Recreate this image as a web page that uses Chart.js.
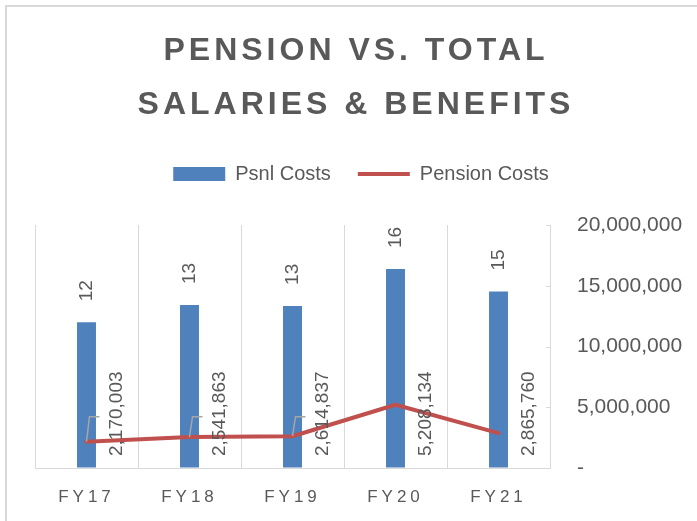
<!DOCTYPE html>
<html>
<head>
<meta charset="utf-8">
<script src="https://cdn.jsdelivr.net/npm/chart.js@4"></script>
<style>
  html, body { margin: 0; padding: 0; background: #ffffff; }
  #wrap { position: relative; width: 697px; height: 521px; overflow: hidden; }
  #frame { position: absolute; left: 5px; top: 5px; width: 800px; height: 600px; border: 2px solid #d9d9d9; }
  #c { position: absolute; left: 0; top: 0; }
</style>
</head>
<body>
<div id="wrap">
  <div id="frame"></div>
  <canvas id="c" width="697" height="521"></canvas>
</div>
<script>
// ---- data ----
const categories = ['FY17', 'FY18', 'FY19', 'FY20', 'FY21'];
const psnlCosts = [12000000, 13420000, 13340000, 16380000, 14520000];
const pensionCosts = [2170003, 2541863, 2614837, 5208134, 2865760];
const yTickValues = [0, 5000000, 10000000, 15000000, 20000000];
const showLeader = [true, true, true, false, false];

const FONT = '"Liberation Sans", Arial, sans-serif';
const GRAY = '#595959';
const GRID = '#d9d9d9';

const fmtMillions = v => String(Math.round(v / 1e6));
const fmtFull = v => v.toLocaleString('en-US');

const tweaks = {
  id: 'tweaks',
  beforeInit(chart) {
    const lg = chart.legend;
    const origFit = lg.fit;
    lg.fit = function () { origFit.call(this); this.height = 93; };
    const origLgDraw = lg.draw;
    lg.draw = function (a) {
      const c = this.ctx; c.save(); c.translate(-5, 5);
      origLgDraw.call(this, a); c.restore();
    };
    const tb = chart.titleBlock;
    const origDraw = tb.draw;
    tb.draw = function (a) {
      const c = this.ctx; c.save(); c.letterSpacing = '4px'; c.translate(-10, 0);
      origDraw.call(this, a); c.restore();
    };
  },
  afterLayout(chart) {
    const s = chart.scales.x;
    if (!s._lsWrapped) {
      s._lsWrapped = true;
      const o = s.drawLabels;
      s.drawLabels = function (a) {
        const c = this.ctx; c.save(); c.letterSpacing = '4px'; o.call(this, a); c.restore();
      };
    }
  },
  afterDatasetsDraw(chart) {
    const ctx = chart.ctx;
    const area = chart.chartArea;
    const ys = chart.scales.y;
    // inward tick marks on right axis
    ctx.save();
    ctx.strokeStyle = GRID; ctx.lineWidth = 1;
    ys.ticks.forEach(t => {
      const y = Math.round(ys.getPixelForValue(t.value)) + 0.5;
      ctx.beginPath(); ctx.moveTo(area.right - 4, y); ctx.lineTo(area.right, y); ctx.stroke();
    });
    ctx.restore();

    const barMeta = chart.getDatasetMeta(0);
    const lineMeta = chart.getDatasetMeta(1);
    ctx.save();
    ctx.font = '19px ' + FONT;
    ctx.fillStyle = GRAY;
    ctx.textBaseline = 'middle';
    ctx.textAlign = 'left';
    barMeta.data.forEach((bar, i) => {
      ctx.save();
      ctx.translate(bar.x, bar.y - 21);
      ctx.rotate(-Math.PI / 2);
      ctx.fillText(fmtMillions(psnlCosts[i]), 0, 0);
      ctx.restore();
    });
    lineMeta.data.forEach((pt, i) => {
      const text = fmtFull(pensionCosts[i]);
      const w = ctx.measureText(text).width;
      const lx = pt.x + 30;
      const ly = area.bottom - 12;
      const cy = ly - w / 2;
      if (showLeader[i]) {
        ctx.save();
        ctx.strokeStyle = '#a6a6a6'; ctx.lineWidth = 1.5;
        ctx.beginPath();
        ctx.moveTo(pt.x, pt.y);
        ctx.lineTo(pt.x + 3, cy + 3);
        ctx.lineTo(pt.x + 13, cy + 3);
        ctx.stroke();
        ctx.restore();
      }
      ctx.save();
      ctx.translate(lx, ly);
      ctx.rotate(-Math.PI / 2);
      ctx.fillText(text, 0, 0);
      ctx.restore();
    });
    ctx.restore();
  }
};

new Chart(document.getElementById('c'), {
  type: 'bar',
  data: {
    labels: categories,
    datasets: [
      {
        type: 'bar',
        label: 'Psnl Costs',
        data: psnlCosts,
        backgroundColor: '#4f81bd',
        borderColor: '#4f81bd',
        borderWidth: 0,
        barPercentage: 0.184,
        categoryPercentage: 1.0,
        pointStyle: 'rect',
        order: 1
      },
      {
        type: 'line',
        label: 'Pension Costs',
        data: pensionCosts,
        borderColor: '#c0504d',
        backgroundColor: '#c0504d',
        borderWidth: 4,
        borderJoinStyle: 'round',
        borderCapStyle: 'round',
        tension: 0,
        pointRadius: 0,
        pointHoverRadius: 0,
        pointBorderWidth: 4,
        pointStyle: 'line',
        order: 0
      }
    ]
  },
  options: {
    responsive: false,
    animation: false,
    devicePixelRatio: 1,
    layout: { padding: { left: 35, right: 0, top: 0, bottom: 0 } },
    plugins: {
      tooltip: { enabled: false },
      title: {
        display: true,
        text: ['PENSION VS. TOTAL', 'SALARIES & BENEFITS'],
        color: GRAY,
        font: { family: FONT, size: 32, weight: 'bold', lineHeight: 1.6875 },
        padding: { top: 24, bottom: 0 }
      },
      legend: {
        display: true,
        position: 'top',
        labels: {
          usePointStyle: true,
          pointStyleWidth: 52,
          boxHeight: 14,
          padding: 27,
          color: GRAY,
          font: { family: FONT, size: 20 },
          sort: (a, b) => a.datasetIndex - b.datasetIndex
        }
      }
    },
    scales: {
      x: {
        offset: true,
        grid: { display: true, color: GRID, lineWidth: 1, offset: true, drawTicks: false },
        border: { display: true, color: GRID, width: 1 },
        ticks: { color: GRAY, font: { family: FONT, size: 17 }, padding: 19 },
        afterFit(scale) { scale.height = 53; }
      },
      y: {
        position: 'right',
        min: 0,
        max: 20000000,
        afterBuildTicks(scale) { scale.ticks = yTickValues.map(v => ({ value: v })); },
        grid: { display: true, drawOnChartArea: false, drawTicks: false, color: GRID },
        border: { display: true, color: GRID, width: 1 },
        ticks: {
          color: GRAY,
          font: { family: FONT, size: 21 },
          padding: 27,
          callback: v => (v === 0 ? '-' : fmtFull(v))
        },
        afterFit(scale) { scale.width = 147; }
      }
    }
  },
  plugins: [tweaks]
});
</script>
</body>
</html>
